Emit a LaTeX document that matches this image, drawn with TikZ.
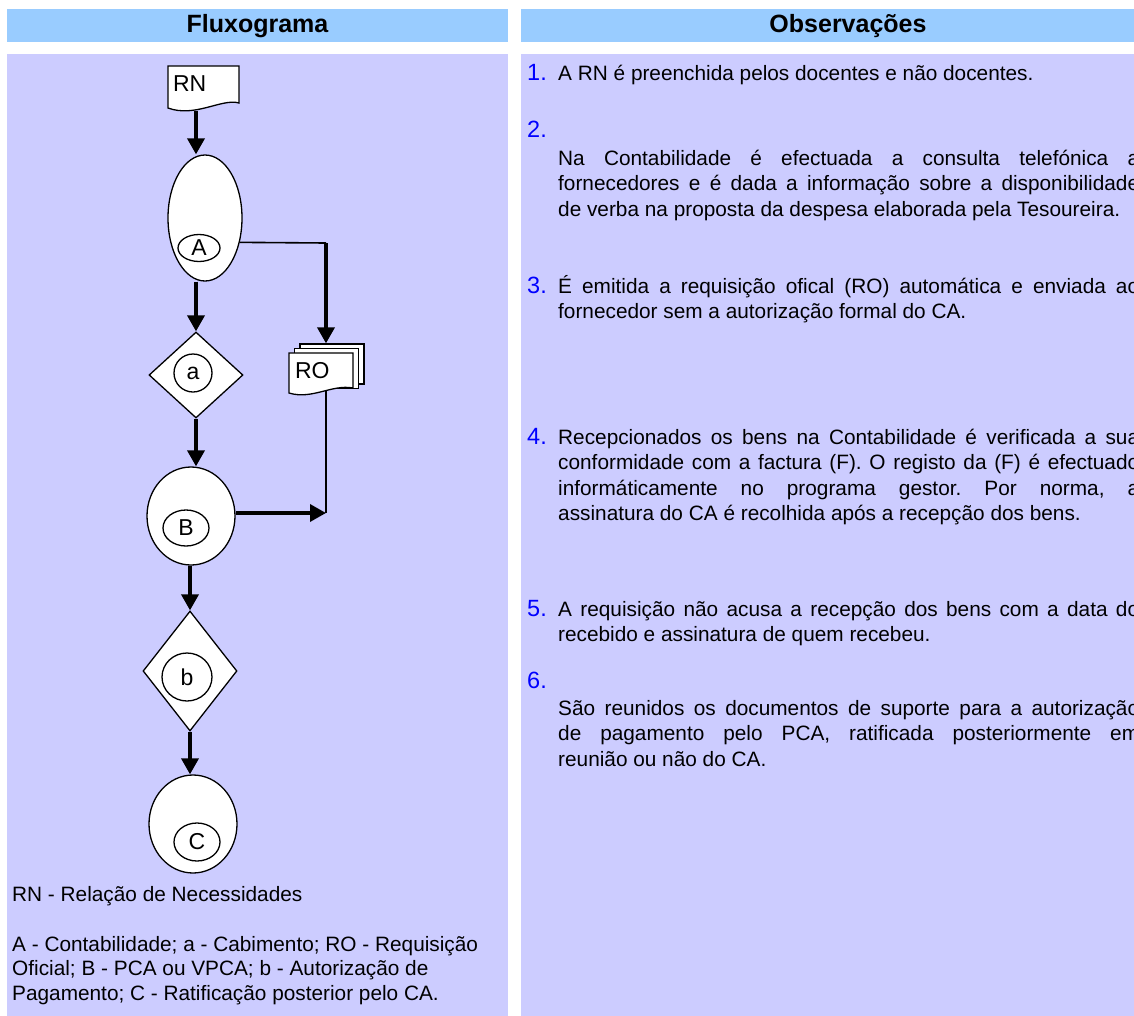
\documentclass[tikz,border=0pt]{standalone}
\usepackage{fontspec}
\setmainfont{Liberation Sans}
\usetikzlibrary{shapes.geometric,arrows.meta}

\definecolor{headblue}{HTML}{99CCFF}
\definecolor{panelblue}{HTML}{CCCCFF}
\definecolor{numblue}{HTML}{0000FF}
\newcommand\lineup{\rule{0pt}{20bp}}

\begin{document}
\begin{tikzpicture}[x=1bp,y=-1bp]
    \tikzset{head/.style={fill=headblue},
        panel/.style={fill=panelblue},
        headtext/.style={font=\fontsize{25bp}{30bp}\selectfont\bfseries},
        outer/.style={draw,fill=white,line width=1.3bp,ellipse,inner sep=0pt},
        inner/.style={draw,ellipse,line width=1.3bp,inner sep=0pt,
            font=\fontsize{23bp}{27bp}\selectfont},
        choice/.style={draw,fill=white,line width=1.3bp,diamond,inner sep=0pt},
        sheet/.style={draw,fill=white,line width=1.3bp},
        doctext/.style={font=\fontsize{23bp}{27bp}\selectfont,inner sep=0pt,
            anchor=north,align=left},
        flow/.style={line width=3.5bp,-{Triangle[length=16bp,width=17bp]}},
        link/.style={line width=1.6bp},
        num/.style={text=numblue,font=\fontsize{23.5bp}{27bp}\selectfont,
            anchor=base west,inner sep=0pt},
        obs/.style={font=\fontsize{20.8bp}{25.5bp}\selectfont\frenchspacing,text width=581bp,
            align=justify,anchor=north west,inner sep=0pt},
        legend/.style={font=\fontsize{20.8bp}{24.5bp}\selectfont,
            anchor=north west,inner sep=0pt,align=left}}
    \useasboundingbox (0,0) rectangle (1134,1016);

    % panels and headings
    \fill[head] (7,9) rectangle (508,42);
    \fill[head] (521,9) rectangle (1134,42);
    \fill[panel] (7,54) rectangle (508,1016);
    \fill[panel] (521,54) rectangle (1134,1016);
    \node[headtext] (fluxo) at (257.5,26) {Fluxograma};
    \node[headtext] (obsv) at (848,26) {Observações};

    % documents
    \draw[sheet] (168,66) -- (239,66) -- (239,103)
        .. controls (222,98) and (195,118) .. (168,108) -- cycle;
    \node[doctext,text width=61bp,text height=25bp,text depth=20bp] (rn) at (203.5,66) {RN};

    \node[sheet,minimum width=64bp,minimum height=40bp] (ro3) at (332,364) {};
    \node[sheet,minimum width=64bp,minimum height=40bp] (ro2) at (326.5,368.5) {};
    \draw[sheet] (289,353) -- (353,353) -- (353,388)
        .. controls (332,384) and (312,400) .. (289,393) -- cycle;
    \node[doctext,text width=52bp,text height=25bp,text depth=12bp] (ro) at (321,353) {RO};

    % flow
    \node[outer,minimum width=74bp,minimum height=126bp] (A) at (205,218) {};
    \node[inner,minimum width=42bp,minimum height=27bp] (Ain) at (199,248) {A};
    \node[choice,minimum width=94bp,minimum height=86bp] (a) at (196,375) {};
    \node[inner,minimum width=38bp,minimum height=38bp] (ain) at (193,373) {a};
    \node[outer,minimum width=88bp,minimum height=98bp] (B) at (191,516) {};
    \node[inner,minimum width=46bp,minimum height=36bp] (Bin) at (186,528) {B};
    \node[choice,minimum width=94bp,minimum height=120bp] (b) at (190,671) {};
    \node[inner,minimum width=50bp,minimum height=48bp] (bin) at (187,677) {b};
    \node[outer,minimum width=88bp,minimum height=98bp] (C) at (193,824) {};
    \node[inner,minimum width=46bp,minimum height=38bp] (Cin) at (197,842) {C};

    \coordinate (rocorner) at (326,243);
    \coordinate (join) at (326,513);

    \draw[flow] (rn.south -| a.north) -- (A.north -| a.north);
    \draw[flow] (A.south -| a.north) -- (a.north);
    \draw[flow] (a.south) -- (a.south |- B.north);
    \draw[flow] (B.south -| b.north) -- (b.north);
    \draw[flow] (b.south) -- (b.south |- C.north);
    \draw[link] (A.-35) -- (rocorner);
    \draw[flow] (rocorner) -- (rocorner |- ro3.north);
    \draw[link] (ro.south -| join) -- (join);
    \draw[flow] (B.east |- join) -- (join);

    % legend
    \node[legend] (rnkey) at (12,881) {\lineup RN - Relação de Necessidades};
    \node[legend] (key) at (12,931) {\lineup A - Contabilidade; a - Cabimento; RO - Requisição\\
        Oficial; B - PCA ou VPCA; b - Autorização de\\
        Pagamento; C - Ratificação posterior pelo CA.};

    % observations
    \node[num] (n1) at (527,80) {1.};
    \node[obs] (t1) at (558,60) {\lineup A RN é preenchida pelos docentes e não docentes.};
    \node[num] (n2) at (527,137) {2.};
    \node[obs] (t2) at (558,145) {\lineup Na Contabilidade é efectuada a consulta telefónica a\linebreak
        fornecedores e é dada a informação sobre a disponibilidade\linebreak
        de verba na proposta da despesa elaborada pela Tesoureira.};
    \node[num] (n3) at (527,293) {3.};
    \node[obs] (t3) at (558,273) {\lineup É emitida a requisição ofical (RO) automática e enviada ao\linebreak
        fornecedor sem a autorização formal do CA.};
    \node[num] (n4) at (527,444) {4.};
    \node[obs] (t4) at (558,424) {\lineup Recepcionados os bens na Contabilidade é verificada a sua\linebreak
        conformidade com a factura (F). O registo da (F) é efectuado\linebreak
        informáticamente no programa gestor. Por norma, a\linebreak
        assinatura do CA é recolhida após a recepção dos bens.};
    \node[num] (n5) at (527,616) {5.};
    \node[obs] (t5) at (558,596) {\lineup A requisição não acusa a recepção dos bens com a data do\linebreak
        recebido e assinatura de quem recebeu.};
    \node[num] (n6) at (527,688) {6.};
    \node[obs] (t6) at (558,695) {\lineup São reunidos os documentos de suporte para a autorização\linebreak
        de pagamento pelo PCA, ratificada posteriormente em\linebreak
        reunião ou não do CA.};
\end{tikzpicture}
\end{document}
